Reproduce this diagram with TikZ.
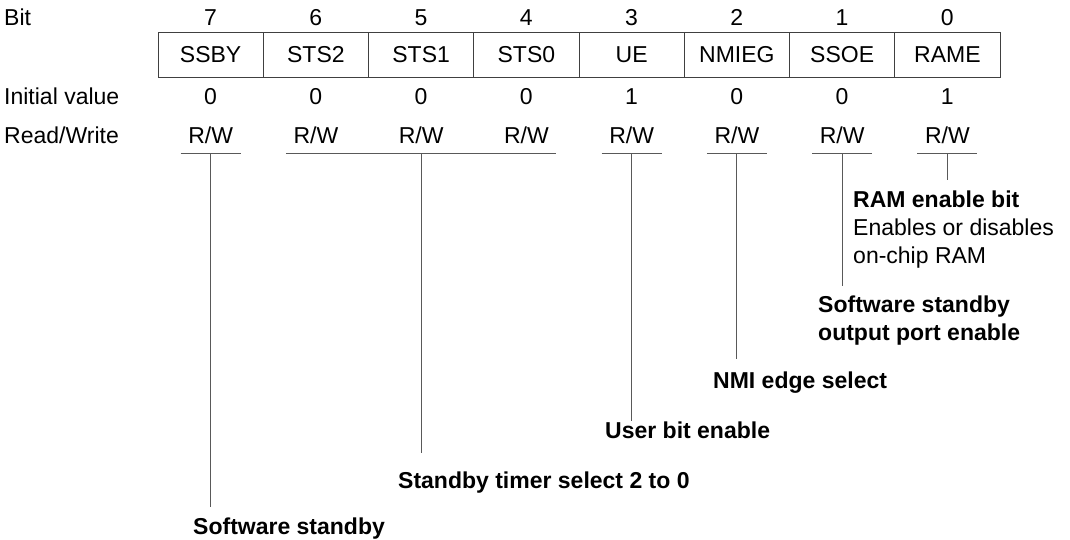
\documentclass[tikz,border=0pt]{standalone}
\usepackage{fontspec}
\setmainfont{Liberation Sans}
\usetikzlibrary{positioning}

\begin{document}
\begin{tikzpicture}[x=1pt, y=-1pt,
    txt/.style={anchor=base, inner sep=0pt, font=\fontsize{23}{28}\selectfont},
    cell/.style={draw=black!75, line width=0.9pt, minimum width=105.25pt, minimum height=45pt, inner sep=0pt, font=\fontsize{23}{28}\selectfont},
    rule/.style={draw=black!65, line width=1pt},
    lbl/.style={anchor=base west, inner sep=0pt, align=left, font=\fontsize{23}{28}\selectfont\bfseries}
]
\useasboundingbox (0,0) rectangle (1070,539);

% Row headings
\node[txt, anchor=base west] (hbit) at (4,25) {Bit};
\node[txt, anchor=base west] (hinit) at (4,104) {Initial value};
\node[txt, anchor=base west] (hrw) at (4,143) {Read/Write};

% Register cells
\foreach \name/\bit/\init [count=\i] in {SSBY/7/0, STS2/6/0, STS1/5/0, STS0/4/0, UE/3/1, NMIEG/2/0, SSOE/1/0, RAME/0/1} {
  \pgfmathsetmacro\xx{158+(\i-0.5)*105.25}
  \node[cell] (c\bit) at (\xx,54.5) {\name};
  \node[txt] (n\bit) at (\xx,25) {\bit};
  \node[txt] (v\bit) at (\xx,104) {\init};
  \node[txt] (rw\bit) at (\xx,143) {R/W};
  \coordinate (u\bit) at (\xx,153);
}

% Labels (base = last line)
\node[lbl] (l7) at (193,534) {Software standby};
\node[lbl] (l5) at (398,488) {Standby timer select 2 to 0};
\node[lbl] (l3) at (605,438) {User bit enable};
\node[lbl] (l2) at (713,388) {NMI edge select};
\node[lbl] (l1) at (818,340) {Software standby\\output port enable};
\node[lbl] (l0) at (853,263) {RAM enable bit\\\mdseries Enables or disables\\\mdseries on-chip RAM};

% Line ends
\coordinate (e7) at (u7 |- 0,507);
\coordinate (e5) at (u5 |- 0,453);
\coordinate (e3) at (u3 |- 0,421);
\coordinate (e2) at (u2 |- 0,359);
\coordinate (e1) at (u1 |- 0,286);
\coordinate (e0) at (u0 |- 0,180);

% Lines
\foreach \b in {7,3,2,1,0}
  \draw[rule] ([xshift=-30pt]u\b) -- ([xshift=30pt]u\b);
\draw[rule] ([xshift=-30pt]u6) -- ([xshift=30pt]u4);
\foreach \b in {7,5,3,2,1,0}
  \draw[rule] (u\b) -- (e\b);

\end{tikzpicture}
\end{document}
